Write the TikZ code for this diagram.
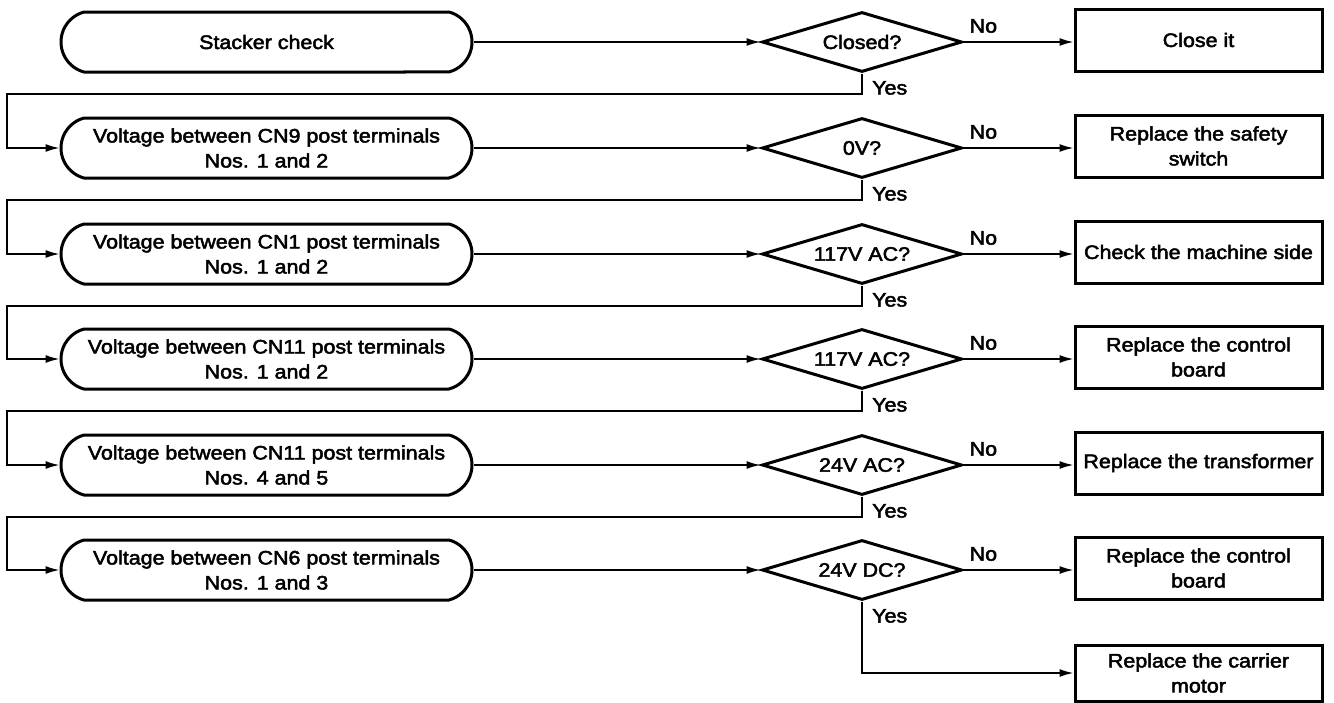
\documentclass[tikz,border=0pt]{standalone}
\usepackage{fontspec}
\setmainfont[FakeStretch=1.1,FakeBold=2.5]{Liberation Sans}
\usetikzlibrary{shapes.misc,shapes.geometric,arrows.meta}
\begin{document}
\begin{tikzpicture}[x=1pt,y=-1pt,
  every node/.style={font=\fontsize{19.5}{25}\selectfont},
  term/.style={rounded rectangle, rounded rectangle arc length=150, draw, line width=3pt,
    minimum width=411pt, minimum height=60pt, align=center, inner sep=0pt},
  dec/.style={diamond, aspect=3.4, draw, line width=3pt, minimum width=200pt, minimum height=60pt,
    inner sep=0pt, align=center},
  act/.style={rectangle, draw, line width=3pt, minimum width=247pt, minimum height=62pt,
    align=center, inner sep=0pt},
  conn/.style={line width=1.6pt, -{Latex[length=14pt,width=8pt]}},
  lbl/.style={inner sep=0pt}]
\useasboundingbox (0,0) rectangle (1334,702);

% rows
\node[term] (t1) at (266.5,42) {Stacker check};
\node[term] (t2) at (266.5,148) {Voltage between CN9 post terminals\\Nos. 1 and 2};
\node[term] (t3) at (266.5,254) {Voltage between CN1 post terminals\\Nos. 1 and 2};
\node[term] (t4) at (266.5,359) {Voltage between CN11 post terminals\\Nos. 1 and 2};
\node[term] (t5) at (266.5,465) {Voltage between CN11 post terminals\\Nos. 4 and 5};
\node[term] (t6) at (266.5,570) {Voltage between CN6 post terminals\\Nos. 1 and 3};

\node[dec] (d1) at (862,42) {Closed?};
\node[dec] (d2) at (862,148) {0V?};
\node[dec] (d3) at (862,254) {117V AC?};
\node[dec] (d4) at (862,359) {117V AC?};
\node[dec] (d5) at (862,465) {24V AC?};
\node[dec] (d6) at (862,570) {24V DC?};

\node[act] (a1) at (1198.5,40) {Close it};
\node[act] (a2) at (1198.5,146) {Replace the safety\\switch};
\node[act] (a3) at (1198.5,252) {Check the machine side};
\node[act] (a4) at (1198.5,357) {Replace the control\\board};
\node[act] (a5) at (1198.5,463) {Replace the transformer};
\node[act] (a6) at (1198.5,568) {Replace the control\\board};
\node[act, minimum height=56pt] (a7) at (1198.5,673) {Replace the carrier\\motor};

% corners of the Yes paths
\coordinate (c1) at (7,94);
\coordinate (c2) at (7,200);
\coordinate (c3) at (7,306);
\coordinate (c4) at (7,411);
\coordinate (c5) at (7,517);

\foreach \i in {1,...,6}{
  \draw[conn] (t\i.east) -- (d\i.west);
  \draw[conn] (d\i.east) -- (d\i.east -| a\i.west);
  \node[lbl, anchor=south west] at ([xshift=6pt,yshift=9pt]d\i.east) {No};
  \node[lbl, anchor=base west] at ([xshift=10pt,yshift=-21pt]d\i.south) {Yes};
}
\draw[conn] (d1.south) |- (c1) |- (t2.west);
\draw[conn] (d2.south) |- (c2) |- (t3.west);
\draw[conn] (d3.south) |- (c3) |- (t4.west);
\draw[conn] (d4.south) |- (c4) |- (t5.west);
\draw[conn] (d5.south) |- (c5) |- (t6.west);
\draw[conn] (d6.south) |- (a7.west);
\end{tikzpicture}
\end{document}
